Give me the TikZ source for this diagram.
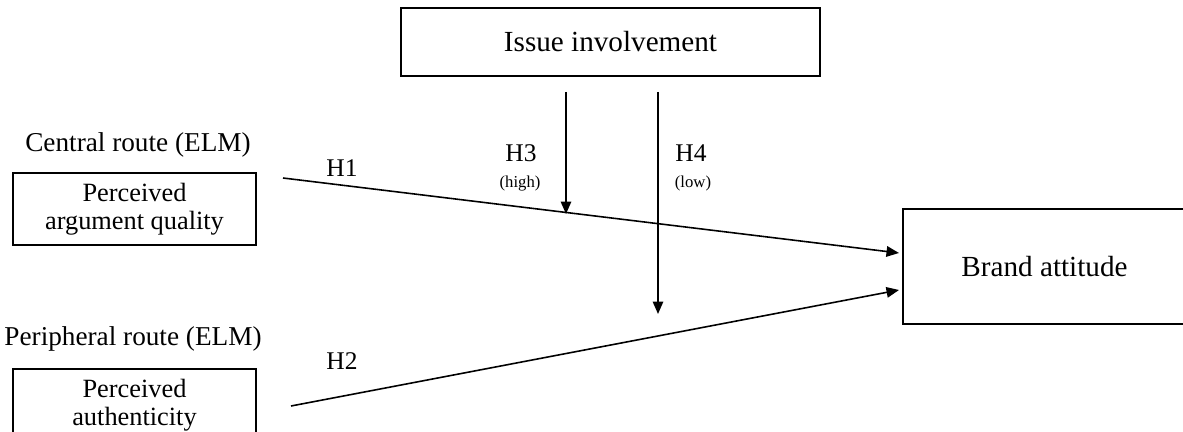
\documentclass[tikz,border=0pt]{standalone}
\usepackage{fontspec}
\setmainfont{Liberation Serif}
\usetikzlibrary{arrows.meta, positioning}
\tikzset{
	cbox/.style={draw, line width=1.2pt, align=center, inner sep=0pt},
	bigtxt/.style={font=\fontsize{16.6}{19}\selectfont},
	boxtxt/.style={font=\fontsize{15}{16.2}\selectfont},
	rlab/.style={font=\fontsize{15.5}{18}\selectfont, anchor=base, inner sep=0pt},
	hlab/.style={font=\fontsize{14.5}{17}\selectfont, anchor=base, inner sep=0pt},
	slab/.style={font=\fontsize{9.5}{11}\selectfont, anchor=base, inner sep=0pt},
	harr/.style={-{Triangle[length=2.5mm, width=2.1mm]}, line width=0.9pt}
}

\begin{document}
\begin{tikzpicture}[x=0.02cm, y=-0.02cm]
	\clip (0,0) rectangle (1183,432);
	% boxes
	\node[cbox, bigtxt, minimum width=8.38cm, minimum height=1.36cm] (issue) at (610.5,42) {Issue involvement};
	\node[cbox, boxtxt, minimum width=4.86cm, minimum height=1.44cm] (apq) at (134.5,209) {Perceived\\argument quality};
	\node[cbox, boxtxt, minimum width=4.86cm, minimum height=1.44cm] (auth) at (134.5,405) {Perceived\\authenticity};
	\node[cbox, bigtxt, minimum width=5.66cm, minimum height=2.3cm] (brand) at (1044.5,266.5) {Brand attitude};
	% route labels
	\node[rlab] (central) at (138,152) {Central route (ELM)};
	\node[rlab] (periph) at (133,345) {Peripheral route (ELM)};
	% arrow ends
	\coordinate (h1s) at (283,178);
	\coordinate (h1e) at (899,253);
	\coordinate (h2s) at (291,406);
	\coordinate (h2e) at (899,290);
	\coordinate (h3s) at (566,92);
	\coordinate (h3e) at (566,214);
	\coordinate (h4s) at (658,92);
	\coordinate (h4e) at (658,314);
	\draw[harr] (h1s) -- (h1e);
	\draw[harr] (h2s) -- (h2e);
	\draw[harr] (h3s) -- (h3e);
	\draw[harr] (h4s) -- (h4e);
	% hypotheses
	\node[hlab] (h1) at (342,177) {H1};
	\node[hlab] (h2) at (342,369) {H2};
	\node[hlab] (h3) at (521,162) {H3};
	\node[slab] (high) at (520,188) {(high)};
	\node[hlab] (h4) at (691,162) {H4};
	\node[slab] (low) at (693,188) {(low)};
\end{tikzpicture}
\end{document}
